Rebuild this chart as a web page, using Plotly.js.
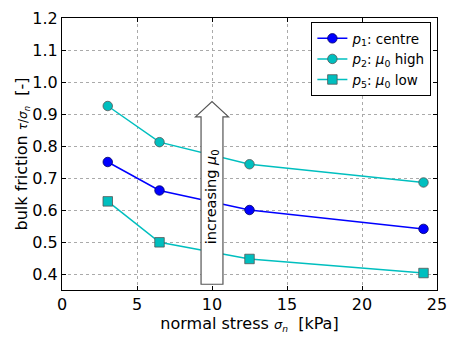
<!DOCTYPE html>
<html>
<head>
<meta charset="utf-8">
<script src="https://cdn.plot.ly/plotly-3.0.1.min.js"></script>
<style>
  html, body { margin: 0; padding: 0; background: #fff; }
  #chart { width: 457px; height: 344px; }
</style>
</head>
<body>
<div id="chart"></div>
<script>
"use strict"
var stress = [3.05, 6.5, 12.5, 24.1];

var frictionCentre = [0.750, 0.661, 0.600, 0.541];
var frictionHigh = [0.925, 0.812, 0.743, 0.686];
var frictionLow = [0.627, 0.499, 0.447, 0.403];

var names = [
  '<i>p</i><sub>1</sub>: centre',
  '<i>p</i><sub>2</sub>: <i>μ</i><sub>0</sub> high',
  '<i>p</i><sub>5</sub>: <i>μ</i><sub>0</sub> low'
];

var colors = ['#0000ff', '#00bfbf', '#00bfbf'];
var symbols = ['circle', 'circle', 'square'];
var ySeries = [frictionCentre, frictionHigh, frictionLow];

var data = [];
for (var i = 0; i < ySeries.length; i++) {
  data.push({
    x: stress,
    y: ySeries[i],
    type: 'scatter',
    mode: 'lines+markers',
    name: names[i],
    line: { color: colors[i], width: 1.5 },
    marker: {
      symbol: symbols[i],
      size: 9.5,
      color: colors[i],
      line: { color: i === 0 ? '#000066' : '#555555', width: 0.8 }
    }
  });
}

// the "increasing mu0" arrow, in data units
var ax = 10.0, bodyW = 0.73, headW = 1.1;
var yBase = 0.368, yHead = 0.891, yTip = 0.939;
var arrowPath = 'M ' + (ax - bodyW) + ',' + yBase +
  ' L ' + (ax + bodyW) + ',' + yBase +
  ' L ' + (ax + bodyW) + ',' + yHead +
  ' L ' + (ax + headW) + ',' + yHead +
  ' L ' + ax + ',' + yTip +
  ' L ' + (ax - headW) + ',' + yHead +
  ' L ' + (ax - bodyW) + ',' + yHead + ' Z';

var tickfont = { family: 'DejaVu Sans', size: 16, color: '#000' };

var layout = {
  width: 457,
  height: 344,
  margin: { l: 62, r: 20, t: 18, b: 54 },
  paper_bgcolor: '#fff',
  plot_bgcolor: '#fff',
  font: { family: 'DejaVu Sans', size: 14, color: '#000' },
  showlegend: true,
  legend: {
    x: 0.985, y: 0.985, xanchor: 'right', yanchor: 'top',
    bgcolor: '#fff', bordercolor: '#000', borderwidth: 1,
    font: { family: 'DejaVu Sans', size: 13.5 },
    tracegroupgap: 0,
    itemwidth: 30
  },
  xaxis: {
    range: [0, 25],
    dtick: 5,
    tick0: 0,
    showgrid: true,
    gridcolor: '#aaa',
    griddash: 'dot',
    gridwidth: 1,
    zeroline: false,
    showline: true,
    linecolor: '#000',
    linewidth: 1,
    mirror: 'ticks',
    ticks: 'inside',
    ticklen: 4,
    tickcolor: '#000',
    tickfont: tickfont,
    title: {
      text: 'normal stress <span style="font-size:13px"><i>σ</i><sub><i>n</i></sub></span>  [kPa]',
      font: { size: 16 }, standoff: 4
    }
  },
  yaxis: {
    range: [0.35, 1.2],
    dtick: 0.1,
    tick0: 0.4,
    tickformat: '.1f',
    showgrid: true,
    gridcolor: '#aaa',
    griddash: 'dot',
    gridwidth: 1,
    zeroline: false,
    showline: true,
    linecolor: '#000',
    linewidth: 1,
    mirror: 'ticks',
    ticks: 'inside',
    ticklen: 4,
    tickcolor: '#000',
    tickfont: tickfont,
    title: {
      text: 'bulk friction <span style="font-size:12px"><i>τ</i>/<i>σ</i><sub><i>n</i></sub></span>  [-]',
      font: { size: 16 }, standoff: 0
    }
  },
  shapes: [{
    type: 'path',
    xref: 'x', yref: 'y',
    path: arrowPath,
    fillcolor: '#fff',
    line: { color: '#555', width: 1.2 },
    layer: 'above'
  }],
  annotations: [{
    xref: 'x', yref: 'y',
    x: ax, y: 0.64,
    text: 'increasing <i>μ</i><sub>0</sub>',
    showarrow: false,
    textangle: -90,
    font: { family: 'DejaVu Sans', size: 14.5, color: '#000' }
  }]
};

Plotly.newPlot('chart', data, layout, { displayModeBar: false, staticPlot: true });
</script>
</body>
</html>
